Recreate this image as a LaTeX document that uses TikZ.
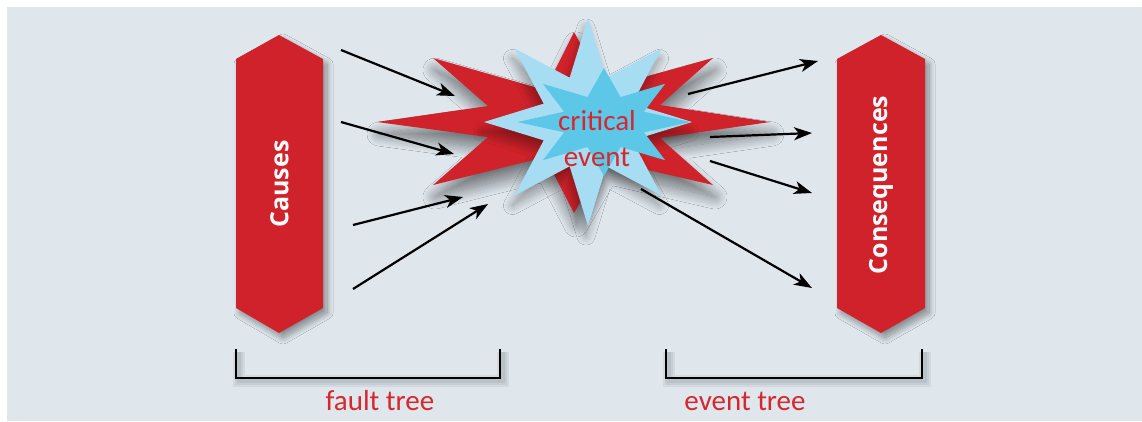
\documentclass[tikz,border=0pt]{standalone}
\usepackage{fontspec}
\setmainfont{Carlito}
\newfontfamily\boldsans{Open Sans}
\usetikzlibrary{arrows.meta,shapes.geometric,shadows.blur}
\definecolor{bgc}{RGB}{223,231,237}
\definecolor{redc}{RGB}{208,34,42}
\definecolor{txtred}{RGB}{212,40,46}
\definecolor{lblue}{RGB}{166,221,243}
\definecolor{dblue}{RGB}{93,199,231}
\definecolor{shc}{RGB}{40,50,60}
\tikzset{
  hexbox/.style={fill=redc, blur shadow={shadow xshift=4pt, shadow yshift=-5pt, shadow blur radius=6pt, shadow blur steps=12, shadow opacity=40}},
  hexlabel/.style={rotate=90, text=white, font=\boldsans\bfseries\fontsize{25}{30}\selectfont, inner sep=0pt},
  arr/.style={-{Stealth[length=18pt,width=13pt,inset=5pt]}, line width=2.2pt, black},
  bracket/.style={line width=2.2pt, black},
  bracketshadow/.style={shc, opacity=0.07},
  treelabel/.style={text=txtred, font=\fontsize{29}{32}\selectfont, inner sep=0pt},
}
\begin{document}
\begin{tikzpicture}[x=1pt,y=-1pt]
\useasboundingbox (0,0) rectangle (1142,421);
\fill[bgc] (7,7) rectangle (1142,421);

% hexagon boxes
\fill[hexbox] (279,35) -- (323,59) -- (323,308) -- (279,333) -- (236,308) -- (236,59) -- cycle;
\node[hexlabel] (causes) at (279.5,184) {Causes};
\fill[hexbox] (881,35) -- (925,59) -- (925,308) -- (881,333) -- (837,308) -- (837,59) -- cycle;
\node[hexlabel] (cons) at (881,185) {Consequences};

% red burst
\fill[redc, blur shadow={shadow xshift=2pt, shadow yshift=-12pt, shadow blur radius=12pt, shadow blur steps=20, shadow opacity=50}]
  (377,122) -- (488,106) -- (433,58) -- (545,90) -- (574,32) -- (605,88) -- (713,58) -- (660,105)
  -- (770,122) -- (660,138) -- (713,185) -- (605,160) -- (574,213) -- (545,157) -- (433,185) -- (488,137) -- cycle;

% blue stars
\node[star, star points=8, star point ratio=2.17, minimum size=208pt, inner sep=0pt, fill=lblue,
  blur shadow={shadow xshift=-2pt, shadow yshift=-10pt, shadow blur radius=9pt, shadow blur steps=15, shadow opacity=35}] (burst) at (588,122) {};
\node[star, star points=8, star point ratio=2, minimum size=108pt, inner sep=0pt, fill=dblue, xscale=1.6, transform shape] (core) at (604,122) {};
\node[treelabel, align=center, font=\fontsize{29}{36}\selectfont] (critical) at (597,139) {critical\\event};

% arrow end coordinates
\coordinate (l1s) at (341,50);  \coordinate (l1e) at (455,96);
\coordinate (l2s) at (341,122); \coordinate (l2e) at (454,154);
\coordinate (l3s) at (353,225); \coordinate (l3e) at (463,197);
\coordinate (l4s) at (353,289); \coordinate (l4e) at (488,204);
\coordinate (r1s) at (688,94);  \coordinate (r1e) at (818,61);
\coordinate (r2s) at (710,137); \coordinate (r2e) at (812,133);
\coordinate (r3s) at (710,161); \coordinate (r3e) at (812,193);
\coordinate (r4s) at (641,189); \coordinate (r4e) at (812,288);
\draw[arr] (l1s) -- (l1e);
\draw[arr] (l2s) -- (l2e);
\draw[arr] (l3s) -- (l3e);
\draw[arr] (l4s) -- (l4e);
\draw[arr] (r1s) -- (r1e);
\draw[arr] (r2s) -- (r2e);
\draw[arr] (r3s) -- (r3e);
\draw[arr] (r4s) -- (r4e);

% brackets
\coordinate (fa) at (236,349); \coordinate (fb) at (500,349);
\coordinate (ea) at (666,349); \coordinate (eb) at (922,349);
\foreach \d in {2,4,6} {
  \draw[bracketshadow, line width=2*\d pt] ([shift={(3,3)}]fa) -- (239,381) -- (503,381) -- ([shift={(3,3)}]fb);
  \draw[bracketshadow, line width=2*\d pt] ([shift={(3,3)}]ea) -- (669,381) -- (925,381) -- ([shift={(3,3)}]eb);
}
\draw[bracket] (fa) -- (236,378) -- (500,378) -- (fb);
\draw[bracket] (ea) -- (666,378) -- (922,378) -- (eb);
\node[treelabel] (fault) at (380,401) {fault tree};
\node[treelabel] (event) at (745,401) {event tree};
\end{tikzpicture}
\end{document}
